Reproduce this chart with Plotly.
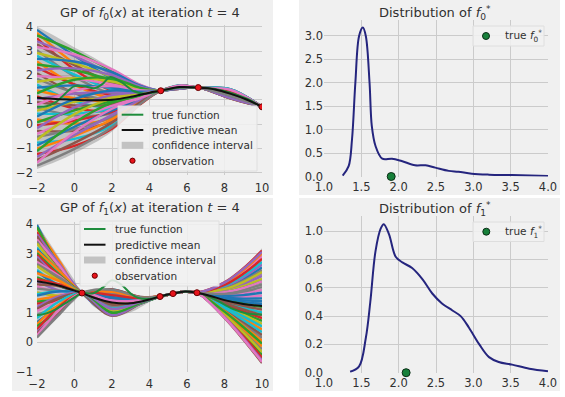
import plotly.graph_objects as go

W, H = 565, 397
BG = "#f0f0f0"
GRID = "#cbcbcb"
TXT = "#303030"
FONT = "DejaVu Sans"
TAB10 = ["#1f77b4", "#ff7f0e", "#2ca02c", "#d62728", "#9467bd",
         "#8c564b", "#e377c2", "#7f7f7f", "#bcbd22", "#17becf"]
TRUE_C = "#1e8c3c"
DENS_C = "#25257e"

# ---------------- f0 GP panel ----------------
f0_obs_x = [4.6, 6.6, 10.0]
f0_obs_y = [1.37, 1.50, 0.71]

f0_mean_x = [-2, -1, 0, 1, 2, 3, 4, 4.6, 5.6, 6.6, 7.5, 8.3, 9.2, 10]
f0_mean_y = [1.08, 1.03, 1.00, 0.98, 1.00, 1.12, 1.29, 1.37, 1.52, 1.50, 1.42, 1.25, 1.00, 0.71]

f0_true_x = [-2, -1.5, -1, -0.5, 0, 0.5, 1.1, 1.5, 1.9, 2.5, 3.2, 3.8, 4.6, 5.6, 6.6, 7.5, 8.3, 9.2, 10]
f0_true_y = [0.71, 0.73, 0.90, 1.25, 1.56, 1.55, 1.48, 1.65, 1.93, 1.72, 1.34, 1.25, 1.37, 1.50, 1.50, 1.44, 1.29, 1.04, 0.71]

f0_ci_x = [-2, -1, 0, 1, 2, 3, 4, 4.6, 5.1, 5.6, 6.1, 6.6, 7.5, 8.3, 9.2, 10]
f0_ci_hi = [4.00, 3.60, 3.15, 2.75, 2.30, 1.85, 1.50, 1.37, 1.47, 1.60, 1.56, 1.50, 1.55, 1.45, 1.15, 0.71]
f0_ci_lo = [-1.84, -1.55, -1.20, -0.80, -0.30, 0.42, 1.09, 1.37, 1.40, 1.44, 1.46, 1.50, 1.29, 1.05, 0.85, 0.71]

# sample curves: values at x = -2, 0, 2, 3.5, 5.6, 8.3 (pinned at the observations)
f0_sample_knots = [-2, 0, 2, 3.5, 4.6, 5.6, 6.6, 8.3, 10]
f0_samples = [
    [3.87, 2.81, 1.88, 1.49, 1.58, 1.42], [3.75, 2.49, 1.56, 1.39, 1.49, 1.16],
    [3.64, 2.99, 2.19, 1.60, 1.53, 1.29], [3.52, 2.24, 1.38, 1.33, 1.46, 1.08],
    [3.40, 2.79, 2.06, 1.56, 1.56, 1.36], [3.28, 2.42, 1.69, 1.43, 1.51, 1.21],
    [3.16, 2.86, 2.25, 1.62, 1.55, 1.33], [3.04, 1.95, 1.25, 1.28, 1.47, 1.12],
    [2.92, 2.50, 1.94, 1.52, 1.52, 1.25], [2.80, 2.03, 1.44, 1.35, 1.58, 1.40],
    [2.68, 2.57, 2.13, 1.58, 1.49, 1.17], [2.57, 1.61, 1.06, 1.22, 1.45, 1.06],
    [2.45, 2.21, 1.81, 1.47, 1.48, 1.14], [2.33, 1.63, 1.19, 1.26, 1.57, 1.38],
    [2.21, 2.29, 2.00, 1.54, 1.51, 1.23], [2.09, 1.27, 0.88, 1.16, 1.59, 1.44],
    [1.97, 1.87, 1.63, 1.41, 1.46, 1.10], [1.86, 1.29, 1.00, 1.20, 1.54, 1.31],
    [1.74, 1.89, 1.75, 1.45, 1.50, 1.19], [1.62, 0.93, 0.69, 1.10, 1.56, 1.35],
    [1.50, 1.59, 1.50, 1.37, 1.45, 1.07], [1.38, 1.06, 0.94, 1.18, 1.53, 1.27],
    [1.26, 1.82, 1.88, 1.49, 1.58, 1.41], [1.14, 0.65, 0.56, 1.05, 1.49, 1.16],
    [1.02, 1.25, 1.31, 1.31, 1.58, 1.42], [0.90, 0.77, 0.81, 1.14, 1.49, 1.16],
    [0.79, 1.37, 1.56, 1.39, 1.53, 1.29], [0.67, 0.36, 0.44, 1.01, 1.46, 1.08],
    [0.55, 0.91, 1.13, 1.24, 1.56, 1.36], [0.43, 0.43, 0.63, 1.07, 1.51, 1.21],
    [0.31, 1.03, 1.38, 1.33, 1.55, 1.33], [0.19, 0.02, 0.25, 0.95, 1.47, 1.12],
    [0.07, 0.57, 0.94, 1.18, 1.52, 1.25], [-0.05, 0.15, 0.50, 1.03, 1.58, 1.40],
    [-0.17, 0.69, 1.19, 1.26, 1.49, 1.17], [-0.28, -0.27, 0.13, 0.91, 1.45, 1.06],
    [-0.40, 0.23, 0.75, 1.12, 1.48, 1.14], [-0.52, -0.20, 0.31, 0.97, 1.57, 1.38],
    [-0.64, 0.41, 1.06, 1.22, 1.51, 1.23], [-0.76, -0.61, -0.06, 0.84, 1.59, 1.44],
    [-0.88, -0.11, 0.56, 1.05, 1.46, 1.10], [-1.00, -0.48, 0.19, 0.93, 1.54, 1.31],
    [-1.11, 0.06, 0.88, 1.16, 1.50, 1.19], [-1.23, -0.89, -0.19, 0.80, 1.56, 1.35],
    [-1.35, -0.45, 0.38, 0.99, 1.45, 1.07], [-1.47, -0.77, 0.06, 0.89, 1.53, 1.27],
    [-1.59, -0.33, 0.63, 1.07, 1.58, 1.41], [-1.71, -1.02, -0.13, 0.82, 1.49, 1.16],
]

# ---------------- f1 GP panel ----------------
f1_obs_x = [0.4, 4.56, 5.25, 6.53]
f1_obs_y = [1.67, 1.55, 1.65, 1.68]

f1_mean_x = [-2, -1, 0, 0.4, 1, 2, 3, 4, 4.56, 5.25, 5.9, 6.53, 7.2, 8, 9, 10]
f1_mean_y = [2.07, 1.95, 1.75, 1.67, 1.52, 1.35, 1.32, 1.45, 1.55, 1.65, 1.72, 1.68, 1.58, 1.43, 1.30, 1.23]

f1_true_x = [-2, -1.5, -1, -0.5, 0, 0.4, 1.0, 1.5, 2.0, 2.5, 3.0, 3.4, 4.0, 4.56, 5.25, 5.9, 6.53, 7.2, 8.0, 8.5, 9.2, 10]
f1_true_y = [0.92, 0.98, 1.12, 1.32, 1.52, 1.67, 1.66, 1.85, 2.10, 1.95, 1.65, 1.50, 1.47, 1.55, 1.65, 1.72, 1.68, 1.55, 1.28, 1.12, 0.98, 0.94]

f1_ci_x = [-2, -1, 0, 0.4, 1, 2, 3, 4, 4.56, 5.25, 5.9, 6.53, 7.2, 8, 9, 10]
f1_ci_hi = [4.02, 3.05, 2.10, 1.67, 1.82, 1.80, 1.62, 1.53, 1.55, 1.65, 1.75, 1.68, 1.78, 2.08, 2.55, 3.18]
f1_ci_lo = [0.12, 0.85, 1.40, 1.67, 1.22, 0.90, 1.02, 1.37, 1.55, 1.65, 1.69, 1.68, 1.38, 0.78, 0.05, -0.72]

# sample curves: values at x = -2, -0.8, 2, 3.5, 8, 9, 10 (pinned at the observations)
f1_sample_knots = [-2, -0.8, 0.4, 2, 3.5, 4.56, 5.25, 5.9, 6.53, 8, 9, 10]
f1_mid_value = 1.72
f1_samples = [
    [3.97, 2.60, 0.95, 1.31, 1.85, 2.14, 2.53], [3.84, 2.74, 1.71, 1.52, 1.19, 0.82, 0.44],
    [3.90, 2.59, 1.46, 1.45, 1.28, 1.00, 0.73], [3.72, 2.59, 1.40, 1.43, 2.03, 2.50, 3.10],
    [3.66, 2.64, 0.97, 1.32, 1.76, 1.96, 2.25], [3.59, 2.43, 1.13, 1.36, 0.89, 0.22, -0.51],
    [3.48, 2.58, 1.62, 1.49, 1.55, 1.54, 1.58], [3.41, 2.37, 1.69, 1.51, 0.98, 0.40, -0.23],
    [3.34, 2.42, 1.26, 1.40, 1.73, 1.90, 2.15], [3.21, 2.26, 1.80, 1.54, 1.37, 1.18, 1.01],
    [3.15, 2.41, 1.24, 1.39, 1.46, 1.36, 1.30], [3.10, 2.41, 1.04, 1.34, 1.07, 0.58, 0.06],
    [3.02, 2.28, 1.10, 1.35, 0.92, 0.28, -0.42], [2.96, 2.25, 1.49, 1.46, 1.97, 2.38, 2.91],
    [2.90, 2.14, 1.55, 1.47, 1.88, 2.20, 2.63], [2.83, 2.09, 0.90, 1.30, 0.83, 0.10, -0.70],
    [2.72, 2.24, 1.58, 1.48, 1.61, 1.66, 1.77], [2.65, 2.19, 1.06, 1.34, 1.10, 0.64, 0.16],
    [2.58, 2.08, 1.35, 1.42, 1.25, 0.94, 0.63], [2.45, 1.92, 1.17, 1.37, 1.91, 2.26, 2.72],
    [2.39, 1.91, 1.37, 1.43, 1.58, 1.60, 1.68], [2.34, 2.07, 1.76, 1.53, 1.01, 0.46, -0.13],
    [2.20, 1.91, 0.99, 1.32, 1.43, 1.30, 1.20], [2.14, 1.96, 1.79, 1.54, 0.89, 0.22, -0.51],
    [2.07, 1.75, 1.44, 1.44, 1.79, 2.02, 2.34], [1.96, 1.90, 1.67, 1.50, 1.13, 0.70, 0.25],
    [1.89, 1.69, 1.19, 1.38, 1.97, 2.38, 2.91], [1.82, 1.74, 1.22, 1.38, 1.67, 1.78, 1.96],
    [1.69, 1.58, 1.08, 1.35, 0.95, 0.34, -0.32], [1.63, 1.73, 1.62, 1.49, 1.22, 0.88, 0.54],
    [1.58, 1.73, 1.53, 1.47, 1.49, 1.42, 1.39], [1.44, 1.57, 1.31, 1.41, 2.00, 2.44, 3.01],
    [1.38, 1.46, 0.95, 1.31, 1.70, 1.84, 2.06], [1.31, 1.41, 1.73, 1.52, 1.31, 1.06, 0.82],
    [1.20, 1.56, 0.92, 1.31, 0.86, 0.16, -0.61], [1.13, 1.51, 1.49, 1.46, 1.40, 1.24, 1.11],
    [1.06, 1.40, 1.42, 1.44, 1.70, 1.84, 2.06], [0.93, 1.24, 1.64, 1.50, 1.82, 2.08, 2.44],
    [0.87, 1.23, 1.33, 1.41, 1.80, 2.04, 2.38], [0.82, 1.39, 1.15, 1.37, 1.16, 0.76, 0.35],
    [0.68, 1.23, 1.51, 1.46, 1.52, 1.48, 1.49], [0.62, 1.28, 1.71, 1.52, 1.06, 0.56, 0.02],
    [0.55, 1.07, 1.01, 1.33, 1.04, 0.52, -0.04], [0.44, 1.22, 1.60, 1.49, 1.94, 2.32, 2.82],
    [0.37, 1.01, 1.13, 1.36, 2.02, 2.48, 3.06], [0.30, 1.06, 1.28, 1.40, 1.34, 1.12, 0.92],
    [0.24, 1.11, 1.40, 1.43, 0.84, 0.12, -0.66], [0.17, 0.95, 1.78, 1.53, 1.64, 1.72, 1.87],
]

# ---------------- distributions of f* ----------------
d0_x = [1.25, 1.33, 1.375, 1.42, 1.47, 1.52, 1.56, 1.61, 1.64, 1.69, 1.78, 1.91, 2.04, 2.22, 2.36, 2.49, 2.67, 2.80, 2.98, 3.21, 3.52, 4.0]
d0_y = [0.02, 0.22, 0.79, 2.00, 3.00, 3.18, 3.00, 2.00, 1.08, 0.65, 0.38, 0.38, 0.33, 0.24, 0.24, 0.19, 0.12, 0.10, 0.06, 0.04, 0.03, 0.01]
f0_star = 1.90

d1_x = [1.35, 1.47, 1.56, 1.62, 1.69, 1.76, 1.80, 1.87, 1.96, 2.05, 2.18, 2.32, 2.45, 2.58, 2.72, 2.83, 2.94, 3.08, 3.21, 3.34, 3.52, 3.75, 4.0]
d1_y = [0.007, 0.045, 0.245, 0.50, 0.86, 1.02, 1.05, 0.98, 0.82, 0.78, 0.74, 0.66, 0.56, 0.49, 0.44, 0.40, 0.32, 0.20, 0.11, 0.076, 0.057, 0.028, 0.01]
f1_star = 2.10

left_xticks = [-2, 0, 2, 4, 6, 8, 10]
f0_yticks = [-2, -1, 0, 1, 2, 3, 4]
f1_yticks = [-1, 0, 1, 2, 3, 4]
dist_xticks = [1.0, 1.5, 2.0, 2.5, 3.0, 3.5, 4.0]
d0_yticks = [0.0, 0.5, 1.0, 1.5, 2.0, 2.5, 3.0]
d1_yticks = [0.0, 0.2, 0.4, 0.6, 0.8, 1.0]

# ---------------------------------------------------------------
fig = go.Figure()


def px(x):
    return x / W


def py(y):
    return 1 - y / H


def gp_panel(xa, ya, knots, rows, build, ci_x, ci_lo, ci_hi, mx, my, tx, ty, ox, oy):
    fig.add_trace(go.Scatter(x=ci_x, y=ci_lo, mode="lines", line=dict(width=0, shape="spline"),
                             xaxis=xa, yaxis=ya, showlegend=False, hoverinfo="skip"))
    fig.add_trace(go.Scatter(x=ci_x, y=ci_hi, mode="lines", line=dict(width=0, shape="spline"),
                             fill="tonexty", fillcolor="rgba(128,128,128,0.42)",
                             xaxis=xa, yaxis=ya, showlegend=False, name="confidence interval"))
    for i, r in enumerate(rows):
        fig.add_trace(go.Scatter(x=knots, y=build(r), mode="lines",
                                 line=dict(width=2.4, color=TAB10[i % 10], shape="spline"),
                                 xaxis=xa, yaxis=ya, showlegend=False, hoverinfo="skip"))
    fig.add_trace(go.Scatter(x=tx, y=ty, mode="lines", line=dict(width=2, color=TRUE_C, shape="spline"),
                             xaxis=xa, yaxis=ya, showlegend=False, name="true function"))
    fig.add_trace(go.Scatter(x=mx, y=my, mode="lines", line=dict(width=2, color="#111111", shape="spline"),
                             xaxis=xa, yaxis=ya, showlegend=False, name="predictive mean"))
    fig.add_trace(go.Scatter(x=ox, y=oy, mode="markers",
                             marker=dict(size=6, color="#e8141c", line=dict(width=1, color="#6a0000")),
                             xaxis=xa, yaxis=ya, showlegend=False, name="observation"))


gp_panel("x", "y", f0_sample_knots, f0_samples,
         lambda r: [r[0], r[1], r[2], r[3], f0_obs_y[0], r[4], f0_obs_y[1], r[5], f0_obs_y[2]],
         f0_ci_x, f0_ci_lo, f0_ci_hi, f0_mean_x, f0_mean_y, f0_true_x, f0_true_y, f0_obs_x, f0_obs_y)

gp_panel("x3", "y3", f1_sample_knots, f1_samples,
         lambda r: [r[0], r[1], f1_obs_y[0], r[2], r[3], f1_obs_y[1], f1_obs_y[2], f1_mid_value,
                    f1_obs_y[3], r[4], r[5], r[6]],
         f1_ci_x, f1_ci_lo, f1_ci_hi, f1_mean_x, f1_mean_y, f1_true_x, f1_true_y, f1_obs_x, f1_obs_y)

for xa, ya, dx, dy, star in [("x2", "y2", d0_x, d0_y, f0_star), ("x4", "y4", d1_x, d1_y, f1_star)]:
    fig.add_trace(go.Scatter(x=dx, y=dy, mode="lines", line=dict(width=2, color=DENS_C, shape="spline"),
                             xaxis=xa, yaxis=ya, showlegend=False, cliponaxis=False))
    fig.add_trace(go.Scatter(x=[star], y=[0], mode="markers", cliponaxis=False,
                             marker=dict(size=8, color="#17803a", line=dict(width=1, color="#0b2e16")),
                             xaxis=xa, yaxis=ya, showlegend=False, name="true f*"))

axis_common = dict(showgrid=True, gridcolor=GRID, gridwidth=1, zeroline=False, showline=False,
                   ticks="", automargin=False, tickfont=dict(family=FONT, size=11.5, color=TXT))

fig.update_layout(
    width=W, height=H, margin=dict(l=0, r=0, t=0, b=0, pad=0, autoexpand=False),
    paper_bgcolor="white", plot_bgcolor=BG, showlegend=False,
    font=dict(family=FONT, color=TXT),
    xaxis=dict(domain=[px(37), px(262)], range=[-2, 10], tickvals=left_xticks, anchor="y",
               ticklabelstandoff=5, **axis_common),
    yaxis=dict(domain=[py(174.5), py(25)], range=[-2.07, 4.07], tickvals=f0_yticks, anchor="x",
               ticklabelstandoff=3, **axis_common),
    xaxis2=dict(domain=[px(324), px(548)], range=[1.0, 4.0], tickvals=dist_xticks,
                ticktext=[f"{v:.1f}" for v in dist_xticks], anchor="y2", ticklabelstandoff=2, **axis_common),
    yaxis2=dict(domain=[py(176.5), py(20)], range=[0, 3.34], tickvals=d0_yticks,
                ticktext=[f"{v:.1f}" for v in d0_yticks], anchor="x2", ticklabelstandoff=0, **axis_common),
    xaxis3=dict(domain=[px(37), px(262)], range=[-2, 10], tickvals=left_xticks, anchor="y3",
                ticklabelstandoff=3, **axis_common),
    yaxis3=dict(domain=[py(372), py(222)], range=[-1.0, 4.07], tickvals=f1_yticks, anchor="x3",
                ticklabelstandoff=3, **axis_common),
    xaxis4=dict(domain=[px(324), px(548)], range=[1.0, 4.0], tickvals=dist_xticks,
                ticktext=[f"{v:.1f}" for v in dist_xticks], anchor="y4", ticklabelstandoff=2, **axis_common),
    yaxis4=dict(domain=[py(372.7), py(216)], range=[0, 1.108], tickvals=d1_yticks,
                ticktext=[f"{v:.1f}" for v in d1_yticks], anchor="x4", ticklabelstandoff=0, **axis_common),
)

shapes = []
annos = []
# panel backgrounds
for x0, y0, x1, y1 in [(12, 0, 273, 195), (299, 0, 560, 195), (12, 198, 273, 391), (299, 198, 560, 391)]:
    shapes.append(dict(type="rect", xref="paper", yref="paper", x0=px(x0), x1=px(x1), y0=py(y1), y1=py(y0),
                       fillcolor=BG, line=dict(width=0), layer="below"))

# titles
for cx, cy, txt in [
    (149.5, 13, "GP of <i>f</i><sub>0</sub>(<i>x</i>) at iteration <i>t</i> = 4"),
    (435, 13, "Distribution of <i>f</i><sub>0</sub><sup>*</sup>"),
    (149.5, 208, "GP of <i>f</i><sub>1</sub>(<i>x</i>) at iteration <i>t</i> = 4"),
    (435, 209, "Distribution of <i>f</i><sub>1</sub><sup>*</sup>"),
]:
    annos.append(dict(x=px(cx), y=py(cy), xref="paper", yref="paper", text=txt, showarrow=False,
                      xanchor="center", yanchor="middle", font=dict(family=FONT, size=13, color=TXT)))


def legend_box(x0, y0, x1, y1):
    shapes.append(dict(type="rect", xref="paper", yref="paper", x0=px(x0), x1=px(x1), y0=py(y1), y1=py(y0),
                       fillcolor="rgba(240,240,240,0.88)", line=dict(width=1, color="#dedede"), layer="above"))


def gp_legend(bx, by, bw, bh, rows_y, hx0, hx1, tx):
    legend_box(bx, by, bx + bw, by + bh)
    labels = ["true function", "predictive mean", "confidence interval", "observation"]
    shapes.append(dict(type="line", xref="paper", yref="paper", x0=px(hx0), x1=px(hx1),
                       y0=py(rows_y[0]), y1=py(rows_y[0]), line=dict(color=TRUE_C, width=2), layer="above"))
    shapes.append(dict(type="line", xref="paper", yref="paper", x0=px(hx0), x1=px(hx1),
                       y0=py(rows_y[1]), y1=py(rows_y[1]), line=dict(color="#111111", width=2), layer="above"))
    shapes.append(dict(type="rect", xref="paper", yref="paper", x0=px(hx0), x1=px(hx1),
                       y0=py(rows_y[2] + 3.5), y1=py(rows_y[2] - 3.5),
                       fillcolor="rgba(128,128,128,0.42)", line=dict(width=0), layer="above"))
    cx = (hx0 + hx1) / 2
    shapes.append(dict(type="circle", xref="paper", yref="paper", x0=px(cx - 2.6), x1=px(cx + 2.6),
                       y0=py(rows_y[3] + 2.6), y1=py(rows_y[3] - 2.6),
                       fillcolor="#e8141c", line=dict(width=1, color="#6a0000"), layer="above"))
    for yy, lab in zip(rows_y, labels):
        annos.append(dict(x=px(tx), y=py(yy), xref="paper", yref="paper", text=lab, showarrow=False,
                          xanchor="left", yanchor="middle", font=dict(family=FONT, size=10.5, color=TXT)))


gp_legend(118, 106, 139, 65, [114.7, 130, 145.3, 160.7], 121.7, 143.3, 150)
gp_legend(80, 221, 139, 65, [229, 244.7, 260, 275.7], 84, 105.5, 112.5)


def star_legend(x0, y0, x1, y1, mx, my, tx, txt):
    legend_box(x0, y0, x1, y1)
    shapes.append(dict(type="circle", xref="paper", yref="paper", x0=px(mx - 3.5), x1=px(mx + 3.5),
                       y0=py(my + 3.5), y1=py(my - 3.5),
                       fillcolor="#17803a", line=dict(width=1, color="#0b2e16"), layer="above"))
    annos.append(dict(x=px(tx), y=py(my), xref="paper", yref="paper", text=txt, showarrow=False,
                      xanchor="left", yanchor="middle", font=dict(family=FONT, size=10.5, color=TXT)))


star_legend(473, 26, 544, 46, 486, 36, 503, "true <i>f</i><sub>0</sub><sup>*</sup>")
star_legend(473, 222, 544, 241.5, 486.3, 231.7, 503, "true <i>f</i><sub>1</sub><sup>*</sup>")

fig.update_layout(shapes=shapes, annotations=annos)
fig.write_html("out.html", config={"displayModeBar": False, "staticPlot": True},
               post_script="document.body.style.margin='0px';document.body.style.overflow='hidden';")
